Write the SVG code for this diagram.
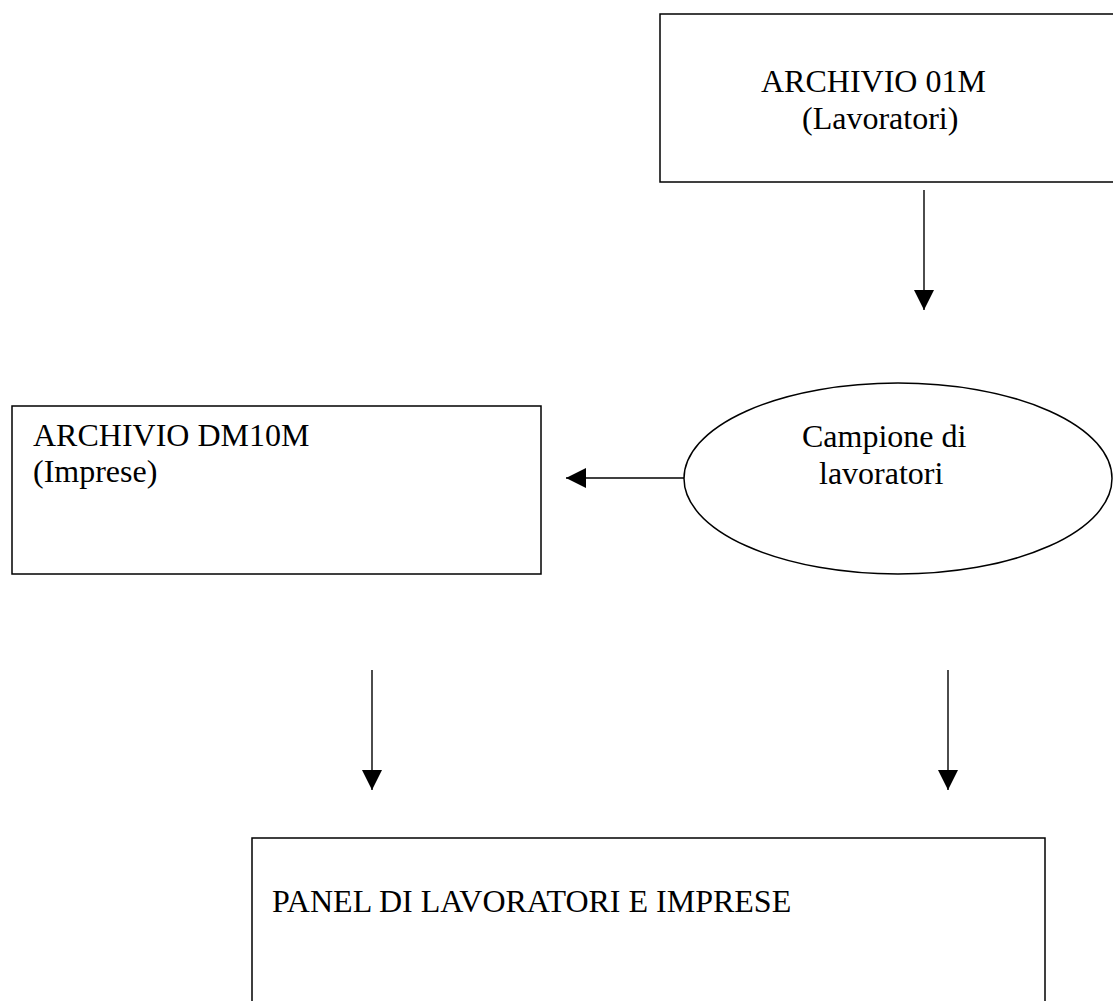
<svg xmlns="http://www.w3.org/2000/svg" width="1113" height="1001" viewBox="0 0 1113 1001">
  <style>
    .box { fill: #fff; stroke: #000; stroke-width: 1.5; }
    .lbl { font-family: "Liberation Serif", "Times New Roman", serif; font-size: 32px; fill: #000; }
    .conn { stroke: #000; stroke-width: 1.4; fill: none; marker-end: url(#head); }
  </style>
  <defs>
    <marker id="head" markerUnits="userSpaceOnUse" markerWidth="20" markerHeight="20" viewBox="0 0 20 20" refX="20" refY="10" orient="auto">
      <path d="M0,0 L20,10 L0,20 z" fill="#000"/>
    </marker>
  </defs>
  <rect width="1113" height="1001" fill="#fff"/>

  <g id="archivio-01m">
    <rect class="box" x="660" y="14" width="470" height="168"/>
    <text class="lbl" x="761" y="92">ARCHIVIO 01M</text>
    <text class="lbl" x="802" y="129">(Lavoratori)</text>
  </g>

  <g id="archivio-dm10m">
    <rect class="box" x="12" y="406" width="529" height="168"/>
    <text class="lbl" x="33" y="446">ARCHIVIO DM10M</text>
    <text class="lbl" x="33" y="482">(Imprese)</text>
  </g>

  <g id="campione">
    <ellipse class="box" cx="898" cy="478.5" rx="214" ry="95.5"/>
    <text class="lbl" x="802" y="447">Campione di</text>
    <text class="lbl" x="819" y="484">lavoratori</text>
  </g>

  <g id="panel">
    <rect class="box" x="252" y="838" width="793" height="200"/>
    <text class="lbl" x="272" y="912">PANEL DI LAVORATORI E IMPRESE</text>
  </g>

  <g id="connectors">
    <line class="conn" x1="924" y1="190" x2="924" y2="310"/>
    <line class="conn" x1="684" y1="478" x2="566" y2="478"/>
    <line class="conn" x1="372" y1="670" x2="372" y2="790"/>
    <line class="conn" x1="948" y1="670" x2="948" y2="790"/>
  </g>
</svg>
